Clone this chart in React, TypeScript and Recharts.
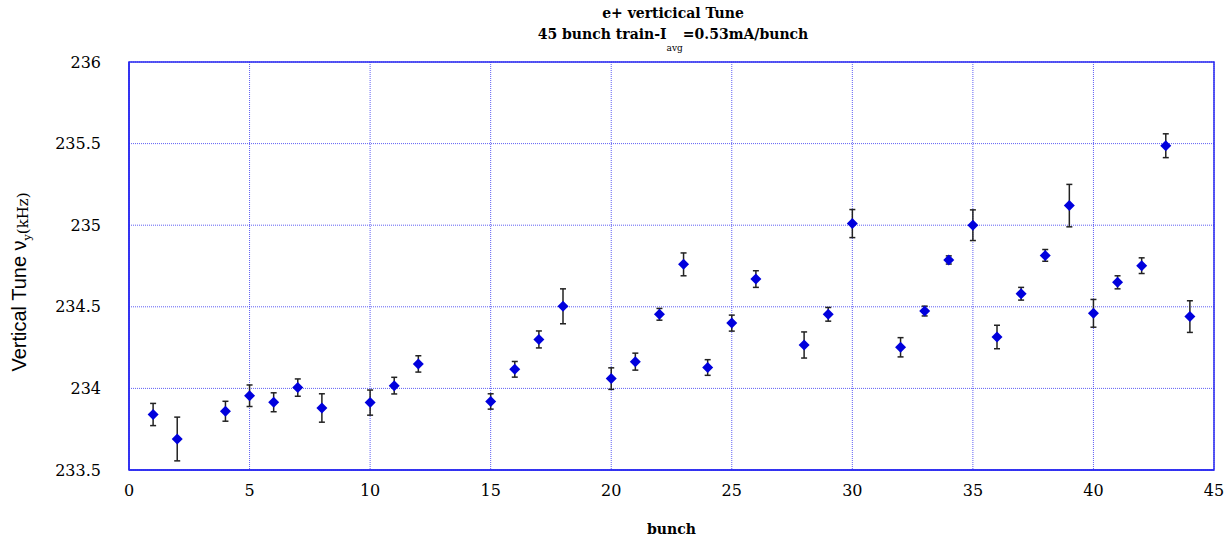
import { ScatterChart, Scatter, XAxis, YAxis, CartesianGrid, ErrorBar, ReferenceArea, Label } from 'recharts';

const bunches = [1, 2, 4, 5, 6, 7, 8, 10, 11, 12, 15, 16, 17, 18, 20, 21, 22, 23, 24, 25, 26, 28, 29, 30, 32, 33, 34, 35, 36, 37, 38, 39, 40, 41, 42, 43, 44];
const tunes = [
  233.84, 233.69, 233.86, 233.955, 233.915, 234.005, 233.88, 233.913, 234.017, 234.15,
  233.92, 234.117, 234.3, 234.503, 234.06, 234.164, 234.454, 234.76, 234.128, 234.4,
  234.67, 234.266, 234.454, 235.01, 234.252, 234.474, 234.787, 235.0, 234.315, 234.58,
  234.815, 235.12, 234.46, 234.65, 234.752, 235.487, 234.44,
];
const errors = [
  0.068, 0.134, 0.061, 0.066, 0.058, 0.053, 0.087, 0.077, 0.051, 0.05,
  0.047, 0.048, 0.052, 0.107, 0.066, 0.052, 0.036, 0.07, 0.048, 0.049,
  0.051, 0.08, 0.042, 0.086, 0.059, 0.03, 0.025, 0.094, 0.072, 0.039,
  0.036, 0.13, 0.085, 0.04, 0.048, 0.073, 0.097,
];
const xTicks = [0, 5, 10, 15, 20, 25, 30, 35, 40, 45];
const yTicks = [233.5, 234, 234.5, 235, 235.5, 236];

const BLUE = '#2a2af0';
const SERIF = '"DejaVu Serif", serif';

const Diamond = (props: any) => {
  const { cx, cy } = props;
  if (cx == null || cy == null) return null;
  const r = 5.5;
  return (
    <polygon
      points={`${cx},${cy - r} ${cx + r},${cy} ${cx},${cy + r} ${cx - r},${cy}`}
      fill="#0000dd"
    />
  );
};

const YLabel = (props: any) => {
  const vb = props.viewBox || { x: 0, y: 0, width: 0, height: 0 };
  const cx = vb.x + 19;
  const cy = vb.y + vb.height / 2 + 16;
  return (
    <text x={cx} y={cy} transform={`rotate(-90, ${cx}, ${cy})`} textAnchor="middle" dominantBaseline="central" fill="#000">
      <tspan fontFamily='"Liberation Sans", Arial, sans-serif' fontSize={20}>Vertical Tune ν</tspan>
      <tspan fontFamily={SERIF} fontSize={11} dy={8}>y</tspan>
      <tspan fontFamily={SERIF} fontSize={15} dy={-4}>(kHz)</tspan>
    </text>
  );
};

const XLabel = (props: any) => {
  const vb = props.viewBox || { x: 0, y: 0, width: 0, height: 0 };
  return (
    <text x={vb.x + vb.width / 2} y={vb.y + 64} textAnchor="middle" fontFamily={SERIF} fontWeight="bold" fontSize={14} fill="#000">
      bunch
    </text>
  );
};

export default function App() {
  const data = bunches.map((b, i) => ({ x: b, y: tunes[i], err: errors[i] }));
  const tick = { fontFamily: SERIF, fontSize: 16, fill: '#000' };
  const titleStyle = { position: 'absolute' as const, left: 0, width: 1346, textAlign: 'center' as const, fontFamily: SERIF, fontWeight: 'bold' as const, fontSize: 14, color: '#000', lineHeight: '18px' };

  return (
    <div style={{ position: 'absolute', left: 0, top: 0, width: 1226, height: 538, background: '#fff' }}>
      <div style={{ ...titleStyle, top: 4 }}>e+ verticical Tune</div>
      <div style={{ ...titleStyle, top: 25 }}>
        45 bunch train-I<span style={{ fontSize: 9, fontWeight: 'normal', position: 'relative', top: 12 }}>avg</span>=0.53mA/bunch
      </div>
      <ScatterChart width={1226} height={538} margin={{ top: 62, right: 12, bottom: 0, left: 0 }}>
        <CartesianGrid stroke={BLUE} strokeDasharray="1 1" strokeOpacity={0.75} />
        <XAxis
          type="number"
          dataKey="x"
          domain={[0, 45]}
          ticks={xTicks}
          height={68}
          tick={tick}
          tickLine={false}
          tickSize={0}
          tickMargin={15}
          axisLine={{ stroke: BLUE, strokeWidth: 1.5 }}
        >
          <Label content={XLabel} />
        </XAxis>
        <YAxis
          type="number"
          dataKey="y"
          domain={[233.5, 236]}
          ticks={yTicks}
          width={129}
          tick={tick}
          tickLine={false}
          tickSize={0}
          tickMargin={28}
          axisLine={{ stroke: BLUE, strokeWidth: 1.5 }}
        >
          <Label content={YLabel} />
        </YAxis>
        <ReferenceArea x1={0} x2={45} y1={233.5} y2={236} fill="none" stroke={BLUE} strokeWidth={1.5} />
        <Scatter data={data} shape={Diamond} isAnimationActive={false}>
          <ErrorBar dataKey="err" direction="y" width={3} stroke="#222" strokeWidth={1.5} isAnimationActive={false} />
        </Scatter>
      </ScatterChart>
    </div>
  );
}
